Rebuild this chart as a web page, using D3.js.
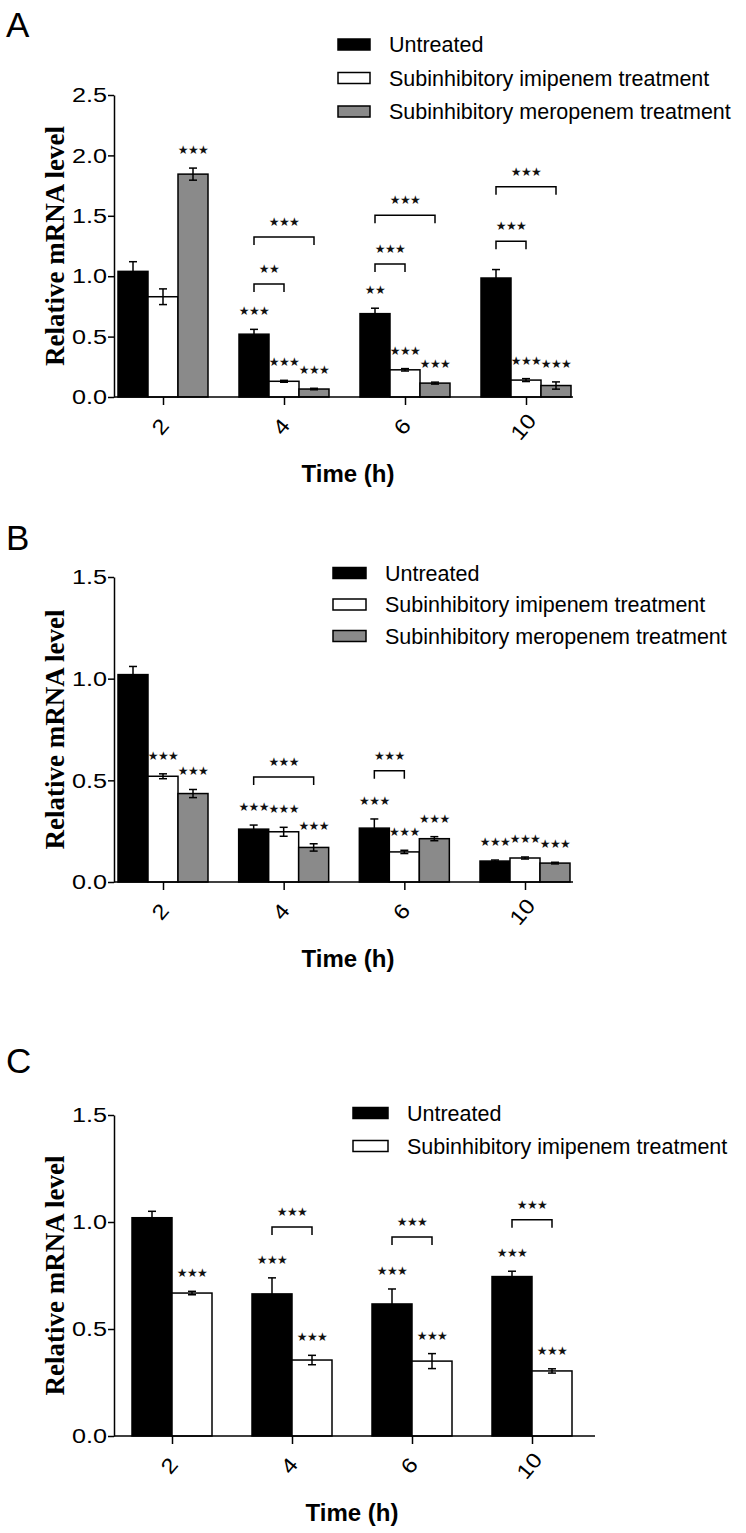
<!DOCTYPE html>
<html><head><meta charset="utf-8">
<script src="https://cdn.jsdelivr.net/npm/d3@7"></script>
<style>
body{margin:0;background:#fff;}
svg{display:block;}
</style></head>
<body>
<svg id="chart" width="746" height="1533"></svg>
<script>
// ---------- DATA ----------
const timePoints = ["2", "4", "6", "10"];
const seriesNames = ["Untreated", "Subinhibitory imipenem treatment", "Subinhibitory meropenem treatment"];
const seriesFill = ["#000000", "#ffffff", "#8a8a8a"];

// Panel A
const A_untreated = [1.04, 0.52, 0.69, 0.985];
const A_untreatedErr = [0.08, 0.04, 0.045, 0.07];
const A_imipenem = [0.83, 0.13, 0.225, 0.14];
const A_imipenemErr = [0.065, 0.008, 0.01, 0.012];
const A_meropenem = [1.845, 0.066, 0.115, 0.095];
const A_meropenemErr = [0.05, 0.006, 0.008, 0.03];
const A_untreatedSig = ["", "***", "**", ""];
const A_imipenemSig = ["", "***", "***", "***"];
const A_meropenemSig = ["***", "***", "***", "***"];
const A_yTicks = [0, 0.5, 1.0, 1.5, 2.0, 2.5];
const A_brackets = [
  {g: 1, from: 0, to: 1, level: 0.935, label: "**"},
  {g: 1, from: 0, to: 2, level: 1.325, label: "***"},
  {g: 2, from: 0, to: 1, level: 1.10, label: "***"},
  {g: 2, from: 0, to: 2, level: 1.505, label: "***"},
  {g: 3, from: 0, to: 1, level: 1.29, label: "***"},
  {g: 3, from: 0, to: 2, level: 1.74, label: "***"}
];

// Panel B
const B_untreated = [1.02, 0.26, 0.265, 0.103];
const B_untreatedErr = [0.04, 0.02, 0.045, 0.005];
const B_imipenem = [0.52, 0.247, 0.148, 0.118];
const B_imipenemErr = [0.012, 0.022, 0.008, 0.005];
const B_meropenem = [0.435, 0.17, 0.213, 0.093];
const B_meropenemErr = [0.02, 0.018, 0.01, 0.004];
const B_untreatedSig = ["", "***", "***", "***"];
const B_imipenemSig = ["***", "***", "***", "***"];
const B_meropenemSig = ["***", "***", "***", "***"];
const B_yTicks = [0, 0.5, 1.0, 1.5];
const B_brackets = [
  {g: 1, from: 0, to: 2, level: 0.517, label: "***"},
  {g: 2, from: 0, to: 1, level: 0.547, label: "***"}
];

// Panel C
const C_untreated = [1.02, 0.664, 0.617, 0.745];
const C_untreatedErr = [0.03, 0.075, 0.07, 0.025];
const C_imipenem = [0.668, 0.355, 0.35, 0.304];
const C_imipenemErr = [0.008, 0.022, 0.035, 0.01];
const C_untreatedSig = ["", "***", "***", "***"];
const C_imipenemSig = ["***", "***", "***", "***"];
const C_yTicks = [0, 0.5, 1.0, 1.5];
const C_brackets = [
  {g: 1, from: 0, to: 1, level: 0.977, label: "***"},
  {g: 2, from: 0, to: 1, level: 0.93, label: "***"},
  {g: 3, from: 0, to: 1, level: 1.01, label: "***"}
];

// ---------- DRAW ----------
const svg = d3.select("#chart");
const STAR = s => s.replace(/\*/g, "\u2605");

function starText(sel) {
  return sel.attr("text-anchor", "middle")
    .attr("font-family", "DejaVu Sans, sans-serif").attr("font-size", 12)
    .attr("letter-spacing", -0.6)
    .attr("fill", "#111");
}

function panel(cfg) {
  const g = svg.append("g");
  const y = d3.scaleLinear().domain([0, cfg.yMax]).range([cfg.y0, cfg.yTop]);
  const x = d3.scalePoint().domain(timePoints).range(cfg.xRange);
  const inner = d3.scaleBand().domain(d3.range(cfg.series.length)).range([-cfg.barW * cfg.series.length / 2, cfg.barW * cfg.series.length / 2]).padding(0);

  // panel letter
  svg.append("text").attr("x", 6).attr("y", cfg.letterY)
    .attr("font-family", "Liberation Sans, Arial, sans-serif").attr("font-size", 35)
    .text(cfg.letter);

  // bars
  cfg.series.forEach((s, si) => {
    const gs = g.append("g");
    gs.selectAll("rect").data(s.values).join("rect")
      .attr("x", (d, i) => x(timePoints[i]) + inner(si))
      .attr("y", d => y(d))
      .attr("width", inner.bandwidth())
      .attr("height", d => y(0) - y(d))
      .attr("fill", seriesFill[si])
      .attr("stroke", "#000").attr("stroke-width", 1.5);
    // error bars
    s.values.forEach((v, i) => {
      const cx = x(timePoints[i]) + inner(si) + inner.bandwidth() / 2;
      const e = s.err[i];
      const eg = gs.append("g").attr("stroke", "#000").attr("stroke-width", 1.5);
      eg.append("line").attr("x1", cx).attr("x2", cx).attr("y1", y(v - e)).attr("y2", y(v + e));
      eg.append("line").attr("x1", cx - 4).attr("x2", cx + 4).attr("y1", y(v + e)).attr("y2", y(v + e));
      eg.append("line").attr("x1", cx - 4).attr("x2", cx + 4).attr("y1", y(v - e)).attr("y2", y(v - e));
      if (s.sig[i]) {
        g.append("text").attr("x", cx).attr("y", y(v + e) - 19 + 5)
          .call(starText)
          .text(STAR(s.sig[i]));
      }
    });
  });

  // brackets
  cfg.brackets.forEach(b => {
    const x1 = x(timePoints[b.g]) + inner(b.from) + inner.bandwidth() / 2;
    const x2 = x(timePoints[b.g]) + inner(b.to) + inner.bandwidth() / 2;
    const yy = y(b.level);
    g.append("path").attr("d", `M${x1},${yy + 8}V${yy}H${x2}V${yy + 8}`)
      .attr("fill", "none").attr("stroke", "#000").attr("stroke-width", 1.5);
    g.append("text").attr("x", (x1 + x2) / 2).attr("y", yy - 16 + 5)
      .call(starText)
      .text(STAR(b.label));
  });

  // y axis
  const ya = g.append("g").attr("transform", `translate(${cfg.axisX},0)`)
    .call(d3.axisLeft(y).tickValues(cfg.yTicks).tickFormat(d3.format(".1f")).tickSize(6).tickSizeOuter(0));
  ya.select(".domain").attr("stroke-width", 1.5);
  ya.selectAll(".tick line").attr("stroke-width", 1.5);
  ya.selectAll(".tick text")
    .attr("font-family", "Liberation Sans, Arial, sans-serif").attr("font-size", 21)
    .attr("fill", "#000")
    .attr("x", -7 / 1.2).attr("transform", "scale(1.2,1)");

  // x axis
  g.append("line").attr("x1", cfg.axisX).attr("x2", cfg.xEnd).attr("y1", y(0)).attr("y2", y(0))
    .attr("stroke", "#000").attr("stroke-width", 1.5);
  const xa = g.append("g").attr("transform", `translate(0,${y(0)})`)
    .call(d3.axisBottom(x).tickSize(8).tickSizeOuter(0));
  xa.select(".domain").remove();
  xa.selectAll(".tick line").attr("stroke-width", 1.5);
  xa.selectAll(".tick text")
    .attr("font-family", "Liberation Sans, Arial, sans-serif").attr("font-size", 21)
    .attr("fill", "#000")
    .attr("text-anchor", "middle").attr("dy", null).attr("y", null)
    .attr("transform", "translate(-3,30) rotate(-50) scale(1.15,1)")
    .attr("dominant-baseline", "central");

  // axis titles
  g.append("text").attr("transform", `translate(${cfg.ylabelX},${(cfg.y0 + cfg.yTop) / 2}) rotate(-90)`)
    .attr("text-anchor", "middle")
    .attr("font-family", "Liberation Serif, Times New Roman, serif").attr("font-weight", "bold").attr("font-size", 27)
    .text("Relative mRNA level");
  g.append("text").attr("x", cfg.xTitleX).attr("y", y(0) + 85)
    .attr("text-anchor", "middle")
    .attr("font-family", "Liberation Sans, Arial, sans-serif").attr("font-weight", "bold").attr("font-size", 24)
    .text("Time (h)");

  // legend
  cfg.series.forEach((s, si) => {
    const cy = cfg.legY + si * cfg.legStep;
    svg.append("rect").attr("x", cfg.legX).attr("y", cy - 5.5).attr("width", cfg.legW).attr("height", 11)
      .attr("fill", seriesFill[si]).attr("stroke", "#000").attr("stroke-width", 1.5);
    svg.append("text").attr("x", cfg.legTextX).attr("y", cy + 7.5)
      .attr("font-family", "Liberation Sans, Arial, sans-serif").attr("font-size", 21.5)
      .text(seriesNames[si]);
  });
}

panel({
  letter: "A", letterY: 37, yMax: 2.5, y0: 397, yTop: 95, yTicks: A_yTicks,
  xRange: [163, 526], barW: 30, axisX: 114, xEnd: 573, ylabelX: 64, xTitleX: 348,
  series: [
    {values: A_untreated, err: A_untreatedErr, sig: A_untreatedSig},
    {values: A_imipenem, err: A_imipenemErr, sig: A_imipenemSig},
    {values: A_meropenem, err: A_meropenemErr, sig: A_meropenemSig}
  ],
  brackets: A_brackets,
  legX: 338, legW: 32, legY: 44.5, legStep: 33.5, legTextX: 389
});

panel({
  letter: "B", letterY: 550, yMax: 1.5, y0: 882, yTop: 577, yTicks: B_yTicks,
  xRange: [163, 525], barW: 30, axisX: 114, xEnd: 573, ylabelX: 64, xTitleX: 348,
  series: [
    {values: B_untreated, err: B_untreatedErr, sig: B_untreatedSig},
    {values: B_imipenem, err: B_imipenemErr, sig: B_imipenemSig},
    {values: B_meropenem, err: B_meropenemErr, sig: B_meropenemSig}
  ],
  brackets: B_brackets,
  legX: 333, legW: 33, legY: 573, legStep: 31.5, legTextX: 385
});

panel({
  letter: "C", letterY: 1073, yMax: 1.5, y0: 1436, yTop: 1115, yTicks: C_yTicks,
  xRange: [172, 532], barW: 40, axisX: 114, xEnd: 595, ylabelX: 64, xTitleX: 352,
  series: [
    {values: C_untreated, err: C_untreatedErr, sig: C_untreatedSig},
    {values: C_imipenem, err: C_imipenemErr, sig: C_imipenemSig}
  ],
  brackets: C_brackets,
  legX: 353, legW: 35, legY: 1113, legStep: 33, legTextX: 407
});
</script>
</body></html>
